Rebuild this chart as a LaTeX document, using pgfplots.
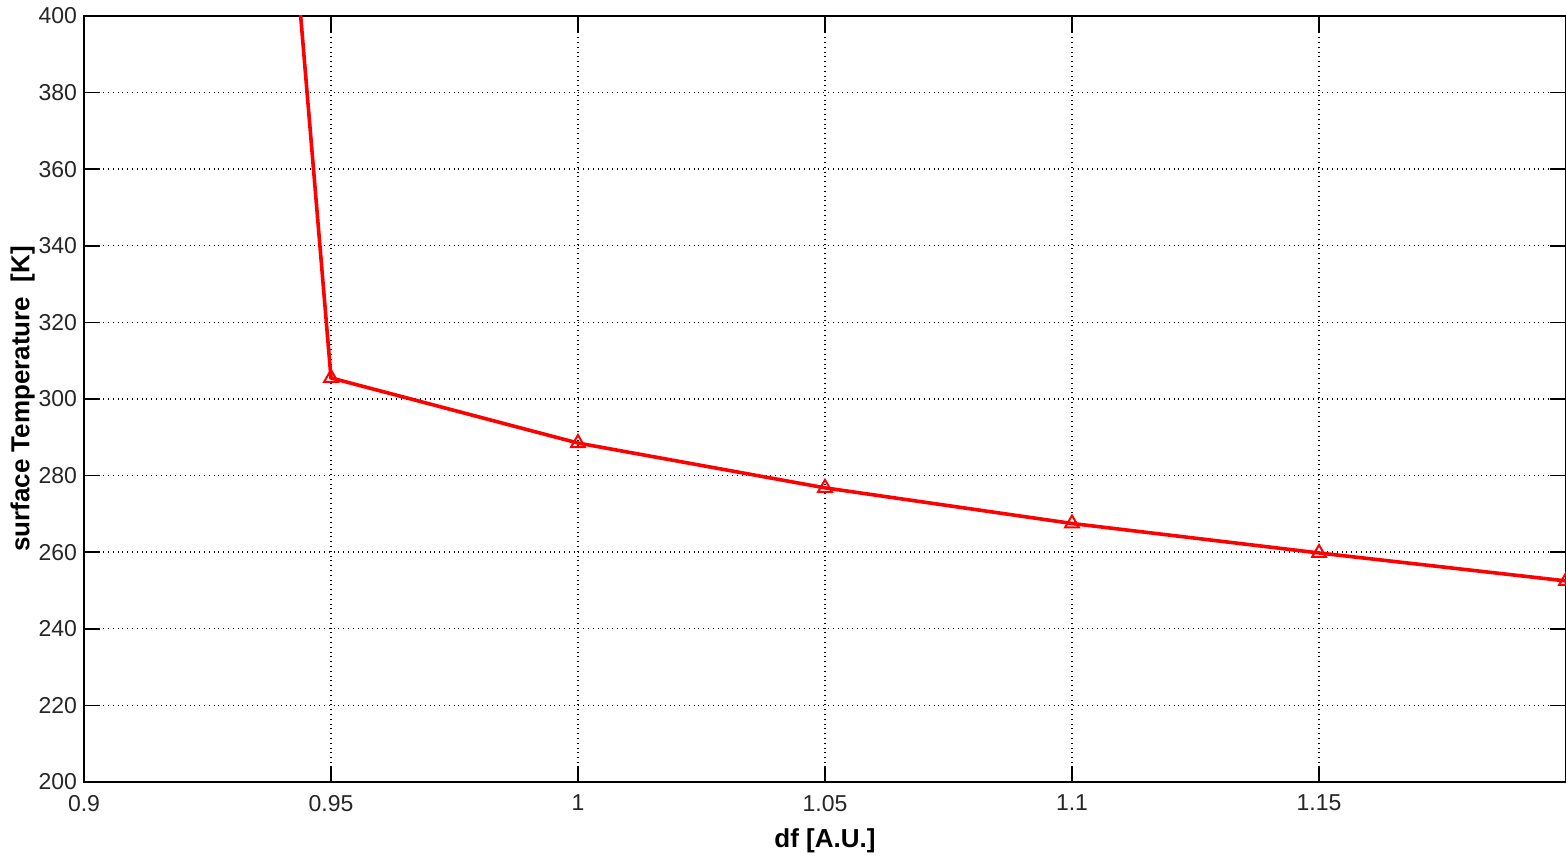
\documentclass[border=0pt]{standalone}
\usepackage{fontspec}
\setmainfont{Liberation Sans}
\usepackage{pgfplots}
\pgfplotsset{compat=1.18}
\begin{document}
\begin{tikzpicture}
\begin{axis}[
  scale only axis,
  width=741pt, height=383pt,
  xmin=0.9, xmax=1.2, ymin=200, ymax=400,
  xtick={0.9,0.95,1,1.05,1.1,1.15},
  ytick={200,220,...,400},
  xticklabels={0.9,0.95,1,1.05,1.1,1.15},
  /pgf/number format/assume math mode=true,
  tick label style={font=\fontsize{11.5}{12}\selectfont, color=black!85},
  xticklabel style={yshift=-3pt},
  tick align=inside,
  major tick length=8pt,
  tick style={black, line width=0.8pt},
  axis line style={black, line width=0.8pt},
  grid=major,
  major grid style={black, dotted, line width=0.7pt},
  xlabel={\textbf{df [A.U.]}},
  ylabel={\textbf{surface Temperature\ \ [K]}},
  label style={font=\fontsize{13}{14}\selectfont},
  xlabel style={yshift=-2pt},
  ylabel style={yshift=-5pt},
  clip=true,
]
\addplot[red, line width=1.8pt, mark=triangle, mark size=4pt,
  mark options={line width=1pt, solid}]
  coordinates {
  (0.9,1075) (0.95,305.5) (1.0,288.5) (1.05,276.8) (1.1,267.5) (1.15,259.8) (1.2,252.5)
  };
\end{axis}
\pgfresetboundingbox
\path ([xshift=-42pt,yshift=-37pt]current axis.south west) rectangle ([yshift=8pt]current axis.north east);
\end{tikzpicture}
\end{document}
